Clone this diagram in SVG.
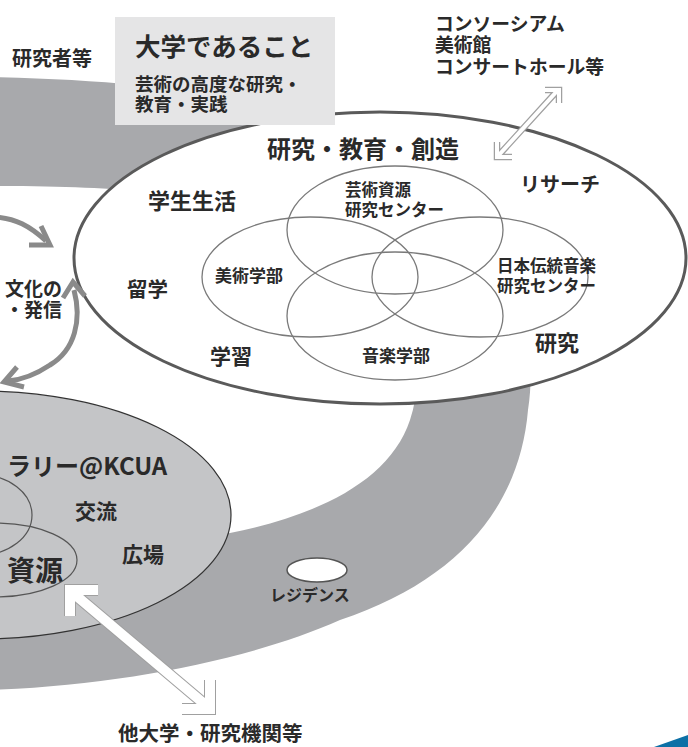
<svg xmlns="http://www.w3.org/2000/svg" width="688" height="747" viewBox="0 0 688 747">
<style>
text{font-family:"Noto Sans CJK JP","Noto Sans",sans-serif;font-weight:700;fill:#2a2a2a}
.venn{fill:none;stroke:#7a7a7a;stroke-width:1.3}
.garrow{fill:none;stroke:#8a8a8a;stroke-width:5;stroke-linejoin:miter;stroke-linecap:butt}
.wout{fill:none;stroke:#a0a0a0;stroke-linejoin:miter}
.win{fill:none;stroke:#ffffff;stroke-linejoin:miter}
</style>
<rect width="688" height="747" fill="#ffffff"/>
<g id="ring">
<path fill="#a8a9ac" fill-rule="evenodd" d="M -10,77 C 150,80 280,100 360,120 C 480,160 545,300 528,410 C 520,505 460,580 340,620 C 250,660 120,685 -10,690 Z M -10,186 C 60,186 110,188 150,192 C 300,210 450,300 410,420 C 390,480 320,515 230,533 C 150,548 60,548 -10,545 Z"/>
</g>
<g id="gallery">
<ellipse cx="-20" cy="515" rx="251" ry="124" fill="#c4c5c7" stroke="#333" stroke-width="1.2"/>
<ellipse cx="-20" cy="515" rx="52" ry="40" fill="none" stroke="#555" stroke-width="1.2"/>
<ellipse cx="-5" cy="560" rx="82" ry="37" fill="none" stroke="#555" stroke-width="1.2"/>
<text x="7" y="475" font-size="24">ラリー@KCUA</text>
<text x="75" y="518.5" font-size="21">交流</text>
<text x="122" y="561.5" font-size="21">広場</text>
<text x="7" y="581" font-size="28">資源</text>
</g>
<g id="residence">
<ellipse cx="317" cy="570" rx="30" ry="12" fill="#ffffff" stroke="#555" stroke-width="1.5"/>
<text x="270" y="601" font-size="16">レジデンス</text>
</g>
<g id="campus">
<ellipse cx="380" cy="258" rx="306" ry="146" fill="#ffffff" stroke="#5a5a5a" stroke-width="3"/>
<text x="267" y="158.3" font-size="24">研究・教育・創造</text>
<text x="148" y="208.5" font-size="22">学生生活</text>
<text x="520" y="191.6" font-size="20">リサーチ</text>
<text x="127" y="296.5" font-size="20.5">留学</text>
<text x="210" y="363.5" font-size="21">学習</text>
<text x="535" y="350.5" font-size="22">研究</text>
</g>
<g id="venn-resource">
<ellipse class="venn" cx="395" cy="230" rx="108" ry="64"/>
<text x="345" y="196" font-size="16.5">芸術資源</text>
<text x="345" y="216" font-size="16.5">研究センター</text>
</g>
<g id="venn-art">
<ellipse class="venn" cx="310" cy="277" rx="108" ry="60"/>
<text x="215" y="282" font-size="17">美術学部</text>
</g>
<g id="venn-trad">
<ellipse class="venn" cx="480" cy="277" rx="108" ry="60"/>
<text x="497" y="272" font-size="16.5">日本伝統音楽</text>
<text x="497" y="292" font-size="16.5">研究センター</text>
</g>
<g id="venn-music">
<ellipse class="venn" cx="395" cy="316" rx="108" ry="64"/>
<text x="362" y="362" font-size="17">音楽学部</text>
</g>
<g id="label-box">
<rect x="115" y="17" width="220" height="108" fill="#e5e5e6"/>
<text x="135" y="56" font-size="25.5">大学であること</text>
<text x="135" y="90.7" font-size="18.5">芸術の高度な研究・</text>
<text x="135" y="110.7" font-size="18.5">教育・実践</text>
</g>
<g id="researchers">
<text x="12" y="65.5" font-size="20">研究者等</text>
</g>
<g id="partners">
<text x="435" y="30.7" font-size="18.8">コンソーシアム</text>
<text x="435" y="52" font-size="18.8">美術館</text>
<text x="435" y="73.7" font-size="18.8">コンサートホール等</text>
</g>
<g id="culture">
<text x="62" y="295.7" font-size="19" text-anchor="end">文化の</text>
<text x="62" y="317" font-size="19" text-anchor="end">・発信</text>
</g>
<g id="other-univ">
<text x="118" y="741" font-size="20.5">他大学・研究機関等</text>
</g>
<g id="connectors">
<path class="garrow" d="M -5,217 C 15,218 30,226 46,241"/>
<path class="garrow" d="M 41,226 L 50,245 L 29,245"/>
<path class="garrow" d="M 74,290 C 82,320 75,350 50,365 C 35,375 20,380 8,381"/>
<path class="garrow" d="M 63,298 L 73,282 L 85,296"/>
<path class="garrow" d="M 17,367 L 4,382 L 24,387"/>
<path class="wout" stroke-width="6.5" d="M 498,156 L 558,90 M 545,90 H 559 V 103 M 497,142 V 157 H 512"/>
<path class="win" stroke-width="4" d="M 498,156 L 558,90 M 545,90 H 559 V 103 M 497,142 V 157 H 512"/>
<path class="wout" stroke-width="12" d="M 73,593 L 208,707 M 98,590 H 70 V 616 M 210,680 V 709 H 182"/>
<path class="win" stroke-width="10" d="M 73,593 L 208,707 M 98,590 H 70 V 616 M 210,680 V 709 H 182"/>
</g>
<polygon points="654,747 688,735 688,747" fill="#0c70a6"/>
</svg>
